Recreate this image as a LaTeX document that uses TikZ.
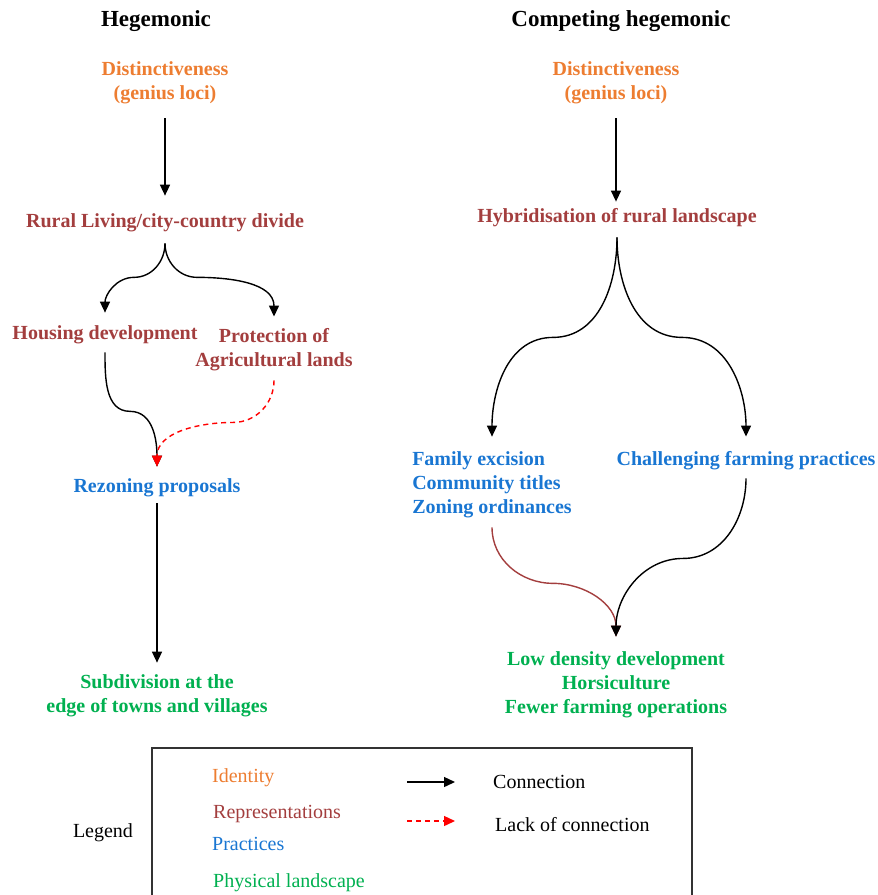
\documentclass[tikz,border=0pt]{standalone}
\usepackage{fontspec}
\setmainfont{Liberation Serif}
\usetikzlibrary{arrows.meta,positioning}
\definecolor{identityc}{RGB}{237,125,49}
\definecolor{representc}{RGB}{163,62,62}
\definecolor{practicec}{RGB}{25,118,210}
\definecolor{physicalc}{RGB}{0,176,80}
\tikzset{
  heading/.style={font=\fontsize{23}{27}\selectfont\bfseries},
  concept/.style={font=\fontsize{20}{24}\selectfont\bfseries, align=center, inner sep=2pt},
  identity/.style={concept, text=identityc},
  represent/.style={concept, text=representc},
  practice/.style={concept, text=practicec},
  physical/.style={concept, text=physicalc},
  keytext/.style={font=\fontsize{20}{24}\selectfont, inner sep=0pt, anchor=base west},
  link/.style={line width=1.4pt, -{Triangle[length=11pt,width=10pt]}},
  nolink/.style={link, red, dash pattern=on 5pt off 4pt},
}

\begin{document}
\begin{tikzpicture}[x=1pt,y=-1pt]
\useasboundingbox (0,0) rectangle (878,895);

% Column headings.
\node[heading] (hegemonic) at (156,21) {Hegemonic};
\node[heading] (competing) at (621,21) {Competing hegemonic};

% Hegemonic column.
\node[identity] (distL) at (165,83) {Distinctiveness\\(genius loci)};
\node[represent] (rural) at (165,223) {Rural Living/city-country divide};
\node[represent] (housing) at (105,335) {Housing development};
\node[represent] (protect) at (274,350) {Protection of\\Agricultural lands};
\node[practice] (rezoning) at (157,488) {Rezoning proposals};
\node[physical] (subdiv) at (157,696) {Subdivision at the\\edge of towns and villages};

\draw[link, shorten <=12pt, shorten >=16pt] (distL.south) -- (rural.north);
\draw[link] ([yshift=-9pt]rural.south) to[out=-90,in=0] ++(-31,34)
    to[out=180,in=90] ([yshift=11pt]housing.north);
\draw[link] ([yshift=-9pt]rural.south) to[out=-90,in=180] ++(32,34)
    to[out=0,in=90] ([yshift=10pt]protect.north);
\draw[link] ([yshift=-6pt]housing.south) to[out=-90,in=180] ++(25,59)
    to[out=0,in=90] ([yshift=10pt]rezoning.north);
\draw[nolink] ([yshift=-7pt]protect.south) to[out=-90,in=0] ++(-41,42)
    to[out=180,in=90] ([yshift=10pt]rezoning.north);
\draw[link] ([yshift=-4pt]rezoning.south) -- ([yshift=10pt]subdiv.north);

% Competing hegemonic column.
\node[identity] (distR) at (616,83) {Distinctiveness\\(genius loci)};
\node[represent] (hybrid) at (617,218) {Hybridisation of rural landscape};
\node[practice, align=left] (family) at (492,485) {Family excision\\Community titles\\Zoning ordinances};
\node[practice] (challenge) at (746,461) {Challenging farming practices};
\node[physical] (outcome) at (616,685) {Low density development\\Horsiculture\\Fewer farming operations};

\draw[link, shorten <=12pt, shorten >=5pt] (distR.south) -- (distR.south |- hybrid.north);
\draw[link] ([yshift=-8pt]hybrid.south) to[out=-90,in=0] ++(-64,100)
    to[out=180,in=90] ([yshift=13pt]family.north);
\draw[link] ([yshift=-8pt]hybrid.south) to[out=-90,in=180] ++(65,100)
    to[out=0,in=90] ([yshift=13pt]challenge.north);
\draw[link, representc] ([yshift=-7pt]family.south) to[out=-90,in=180] ++(61,56)
    to[out=0,in=90] ([yshift=13pt]outcome.north);
\draw[link] ([yshift=-6pt]challenge.south) to[out=-90,in=0] ++(-63,80)
    to[out=180,in=90] ([yshift=13pt]outcome.north);

% Legend.
\draw[line width=1.4pt, black!80] (152,900) |- (692,748) -- (692,900);
\node[keytext, anchor=base] (legend) at (103,837) {Legend};
\node[keytext, text=identityc] (keyident) at (212,782) {Identity};
\node[keytext, text=representc] (keyrepr) at (213,818) {Representations};
\node[keytext, text=practicec] (keyprac) at (212,850) {Practices};
\node[keytext, text=physicalc] (keyphys) at (213,887) {Physical landscape};
\coordinate (solidA) at (407,782);
\coordinate (solidB) at (455,782);
\coordinate (dashA) at (407,821);
\coordinate (dashB) at (455,821);
\draw[link] (solidA) -- (solidB);
\draw[nolink] (dashA) -- (dashB);
\node[keytext] (keyconn) at (493,788) {Connection};
\node[keytext] (keylack) at (495,831) {Lack of connection};

\end{tikzpicture}
\end{document}
